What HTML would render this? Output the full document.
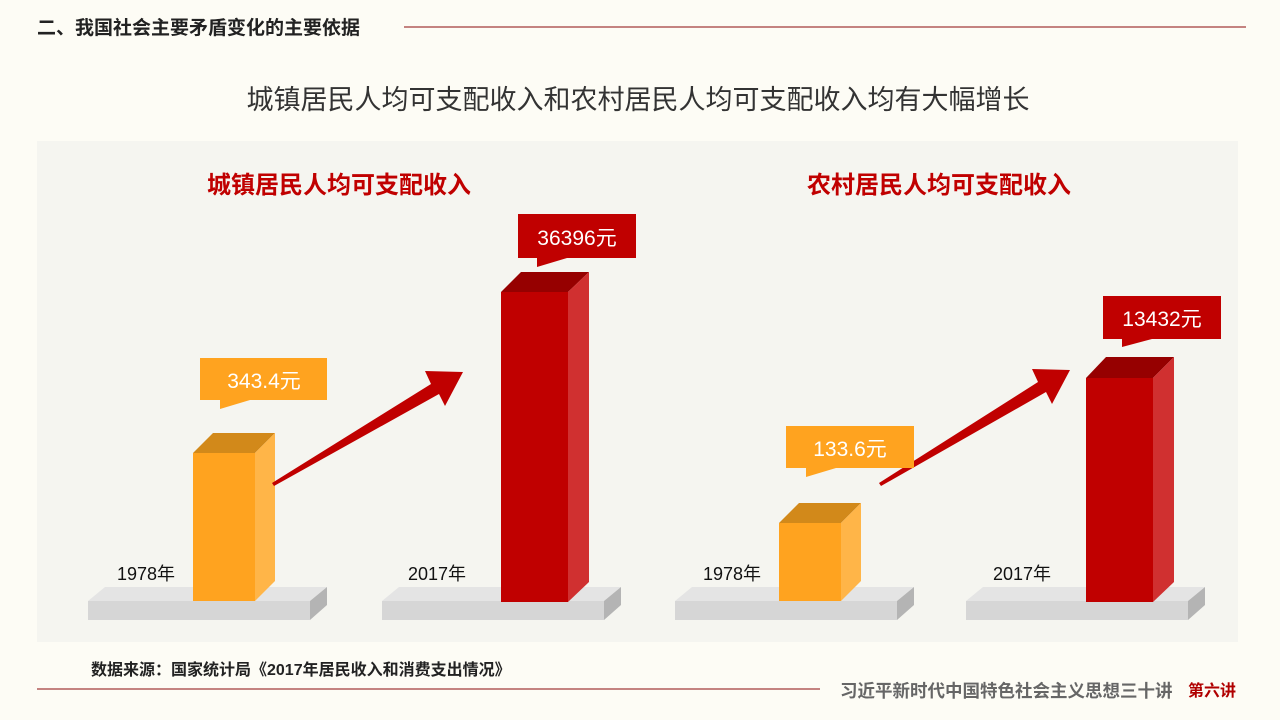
<!DOCTYPE html>
<html><head><meta charset="utf-8"><style>
html,body{margin:0;padding:0;background:#fdfcf5;}
svg{display:block;}
text{font-family:"Liberation Sans","Noto Sans CJK SC",sans-serif;}
</style></head><body>
<svg width="1280" height="720" viewBox="0 0 1280 720" xmlns="http://www.w3.org/2000/svg">
<rect width="1280" height="720" fill="#fdfcf5"/>
<text x="37" y="34" font-size="19" font-weight="bold" fill="#222">二、我国社会主要矛盾变化的主要依据</text>
<line x1="404" y1="27" x2="1246" y2="27" stroke="#8a0a0a" stroke-width="1"/>
<text x="638" y="109" font-size="27" fill="#333" text-anchor="middle">城镇居民人均可支配收入和农村居民人均可支配收入均有大幅增长</text>
<rect x="37" y="141" width="1201" height="501" fill="#f5f5f0"/>
<text x="339" y="193" font-size="24" font-weight="bold" fill="#c00000" text-anchor="middle">城镇居民人均可支配收入</text>
<text x="939" y="193" font-size="24" font-weight="bold" fill="#c00000" text-anchor="middle">农村居民人均可支配收入</text>

<g>
<g>
<polygon points="88,601 105,587 327,587 310,601" fill="#e4e4e4"/>
<rect x="88" y="601" width="222" height="19" fill="#d6d6d6"/>
<polygon points="310,601 327,587 327,605 310,620" fill="#b4b4b4"/>
</g>
<g transform="translate(294,0)">
<polygon points="88,601 105,587 327,587 310,601" fill="#e4e4e4"/>
<rect x="88" y="601" width="222" height="19" fill="#d6d6d6"/>
<polygon points="310,601 327,587 327,605 310,620" fill="#b4b4b4"/>
</g>
<g transform="translate(587,0)">
<polygon points="88,601 105,587 327,587 310,601" fill="#e4e4e4"/>
<rect x="88" y="601" width="222" height="19" fill="#d6d6d6"/>
<polygon points="310,601 327,587 327,605 310,620" fill="#b4b4b4"/>
</g>
<g transform="translate(878,0)">
<polygon points="88,601 105,587 327,587 310,601" fill="#e4e4e4"/>
<rect x="88" y="601" width="222" height="19" fill="#d6d6d6"/>
<polygon points="310,601 327,587 327,605 310,620" fill="#b4b4b4"/>
</g>
</g>

<rect x="193" y="453" width="62" height="148" fill="#ffa31f"/>
<polygon points="193,453 213,433 275,433 255,453" fill="#d2891a"/>
<polygon points="255,453 275,433 275,581 255,601" fill="#ffb548"/>

<rect x="501" y="292" width="67" height="310" fill="#c00000"/>
<polygon points="501,292 521,272 589,272 568,292" fill="#960000"/>
<polygon points="568,292 589,272 589,582 568,602" fill="#d03030"/>

<rect x="779" y="523" width="62" height="78" fill="#ffa31f"/>
<polygon points="779,523 799,503 861,503 841,523" fill="#d2891a"/>
<polygon points="841,523 861,503 861,581 841,601" fill="#ffb548"/>

<rect x="1086" y="378" width="67" height="224" fill="#c00000"/>
<polygon points="1086,378 1106,357 1174,357 1153,378" fill="#960000"/>
<polygon points="1153,378 1174,357 1174,582 1153,602" fill="#d03030"/>

<polygon points="272,483 431,384 425,371 463,372 445,406 439,394 274,486" fill="#c00000"/>
<polygon points="879,483 1038,382 1032,369 1070,370 1052,404 1046,392 881,486" fill="#c00000"/>

<rect x="200" y="358" width="127" height="42" fill="#ffa31f"/>
<polygon points="220,400 220,409 250,400" fill="#ffa31f"/>
<text x="264" y="388" font-size="21" fill="#fff" text-anchor="middle">343.4元</text>

<rect x="518" y="214" width="118" height="44" fill="#c00000"/>
<polygon points="537,258 537,267 567,258" fill="#c00000"/>
<text x="577" y="245" font-size="21" fill="#fff" text-anchor="middle">36396元</text>

<rect x="786" y="426" width="128" height="42" fill="#ffa31f"/>
<polygon points="806,468 806,477 836,468" fill="#ffa31f"/>
<text x="850" y="456" font-size="21" fill="#fff" text-anchor="middle">133.6元</text>

<rect x="1103" y="296" width="118" height="43" fill="#c00000"/>
<polygon points="1122,339 1122,347 1152,339" fill="#c00000"/>
<text x="1162" y="326" font-size="21" fill="#fff" text-anchor="middle">13432元</text>

<text x="117" y="580" font-size="18" fill="#111">1978年</text>
<text x="408" y="580" font-size="18" fill="#111">2017年</text>
<text x="703" y="580" font-size="18" fill="#111">1978年</text>
<text x="993" y="580" font-size="18" fill="#111">2017年</text>

<text x="91" y="675" font-size="16" font-weight="bold" fill="#222">数据来源：国家统计局《2017年居民收入和消费支出情况》</text>
<line x1="37" y1="689" x2="820" y2="689" stroke="#8a0a0a" stroke-width="1"/>
<text x="840" y="697" font-size="17.5" font-weight="bold" fill="#666">习近平新时代中国特色社会主义思想三十讲</text>
<text x="1188" y="696" font-size="16" font-weight="bold" fill="#b00000" font-family="'Noto Serif CJK SC',serif">第六讲</text>
</svg>
</body></html>
